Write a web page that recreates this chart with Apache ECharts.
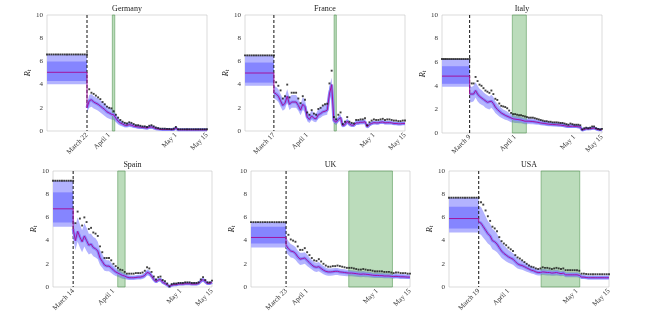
<!DOCTYPE html>
<html>
<head>
<meta charset="utf-8">
<script src="https://cdn.jsdelivr.net/npm/echarts@6/dist/echarts.min.js"></script>
<style>
  html, body { margin: 0; padding: 0; background: #fff; }
  #main { width: 645px; height: 320px; }
</style>
</head>
<body>
<div id="main"></div>
<script>
// days are counted from March 1 (day 0): April 1 = 31, May 1 = 61, May 15 = 75
const countries = ['Germany', 'France', 'Italy', 'Spain', 'UK', 'USA'];
const startDay = [3, 3, -6, 4, 7, 5];
const endDay = 75;
const lockDay = [21, 16, 8, 13, 22, 18];
const lockLabel = ['March 22', 'March 17', 'March 9', 'March 14', 'March 23', 'March 19'];
const tickDays = [31, 61, 75];
const tickLabels = ['April 1', 'May 1', 'May 15'];
const greenFrom = [32.4, 43.1, 29.6, 32.9, 48.8, 45.3];
const greenTo = [33.5, 44.1, 36.7, 36.2, 67.5, 62.2];

// constant estimate before lockdown
const preTop = [6.6, 6.52, 6.27, 9.16, 5.59, 7.7];
const preInHi = [6.0, 5.9, 5.66, 8.16, 5.19, 6.92];
const preMed = [5.06, 5.0, 4.82, 6.74, 4.27, 5.9];
const preInLo = [4.31, 4.17, 4.17, 5.56, 3.75, 5.04];
const preLo = [4.02, 3.9, 3.92, 5.19, 3.4, 4.7];

// after lockdown: med/lo/hi start on lockdown day, dots start the day after
const deMed = [2.0,2.6,2.7,2.5,2.4,2.3,2.15,2.0,1.85,1.65, 1.55,1.45,1.4,1.1,0.85,0.7,0.6,0.5,0.48,0.55, 0.5,0.42,0.38,0.35,0.32,0.3,0.28,0.25,0.32,0.35, 0.28,0.2,0.17,0.14,0.12,0.12,0.12,0.12,0.12,0.12, 0.25,0.1,0.1,0.1,0.1,0.1,0.1,0.1,0.1,0.1, 0.1,0.1,0.1,0.1,0.1];
const deLo = [1.6,2.0,2.1,1.95,1.85,1.75,1.6,1.45,1.3,1.15, 1.05,1.0,0.95,0.75,0.55,0.45,0.38,0.3,0.3,0.35, 0.32,0.26,0.23,0.2,0.18,0.17,0.15,0.13,0.18,0.2, 0.15,0.1,0.08,0.06,0.05,0.05,0.05,0.05,0.05,0.05, 0.13,0.04,0.04,0.04,0.04,0.04,0.04,0.04,0.04,0.04, 0.04,0.04,0.04,0.04,0.04];
const deHi = [2.4,3.1,3.2,3.0,2.9,2.8,2.65,2.5,2.35,2.15, 2.0,1.9,1.8,1.45,1.15,0.95,0.82,0.7,0.68,0.75, 0.7,0.6,0.55,0.5,0.47,0.44,0.42,0.38,0.46,0.5, 0.42,0.32,0.28,0.24,0.22,0.22,0.22,0.21,0.2,0.21, 0.38,0.18,0.18,0.18,0.18,0.18,0.18,0.18,0.18,0.18, 0.18,0.18,0.18,0.18,0.18];
const deDots = [3.6,3.3,3.2,3.05,2.9,2.75,2.5,2.3,2.1,2.0, 1.95,1.7,1.4,1.15,0.95,0.8,0.7,0.65,0.75,0.7, 0.6,0.5,0.5,0.45,0.4,0.4,0.35,0.45,0.5,0.4, 0.3,0.25,0.2,0.2,0.2,0.18,0.18,0.15,0.2,0.35, 0.15,0.15,0.15,0.15,0.15,0.15,0.15,0.15,0.15,0.15, 0.15,0.15,0.15,0.15];

const frMed = [3.3,3.2,3.0,2.6,2.2,2.4,3.0,2.3,2.5,2.5, 2.5,2.2,1.8,2.3,2.1,1.2,1.0,1.3,1.1,1.05, 1.4,1.5,1.65,1.7,1.8,3.2,4.0,0.9,0.75,1.0, 1.15,0.45,0.55,0.85,0.6,0.5,0.5,0.7,0.7,0.75, 0.75,0.8,0.35,0.55,0.65,0.72,0.7,0.7,0.75,0.78, 0.7,0.72,0.72,0.7,0.65,0.65,0.62,0.62,0.65,0.65];
const frLo = [2.8,2.7,2.5,2.1,1.75,1.9,2.45,1.8,2.0,2.0, 2.0,1.75,1.35,1.8,1.65,0.85,0.7,0.95,0.8,0.75, 1.05,1.15,1.3,1.35,1.4,2.6,3.3,0.65,0.5,0.75, 0.9,0.3,0.38,0.62,0.42,0.35,0.35,0.52,0.52,0.57, 0.57,0.62,0.22,0.4,0.5,0.57,0.55,0.55,0.6,0.63, 0.55,0.57,0.57,0.55,0.5,0.5,0.48,0.48,0.5,0.5];
const frHi = [3.9,3.8,3.6,3.2,2.8,3.0,3.6,2.9,3.1,3.1, 3.1,2.8,2.35,2.9,2.7,1.65,1.45,1.8,1.55,1.5, 1.9,2.0,2.2,2.25,2.35,3.9,4.6,1.2,1.0,1.3, 1.45,0.65,0.75,1.1,0.8,0.7,0.7,0.92,0.92,0.97, 0.97,1.02,0.5,0.72,0.82,0.88,0.86,0.86,0.9,0.93, 0.86,0.88,0.88,0.86,0.8,0.8,0.77,0.77,0.8,0.8];
const frDots = [4.2,3.9,3.5,2.8,3.0,4.0,2.9,3.3,3.3,3.3, 2.8,2.4,3.0,2.7,1.6,1.4,1.8,1.5,1.4,1.9, 2.0,2.2,2.3,2.35,4.1,5.2,1.2,1.0,1.4,1.6, 0.6,0.8,1.2,0.8,0.7,0.65,0.95,0.95,1.0,1.0, 1.1,0.5,0.75,0.9,1.0,0.95,0.95,1.0,1.05,0.95, 1.0,1.0,0.95,0.9,0.9,0.85,0.85,0.9,0.9];

const itMed = [3.3,3.2,3.3,3.6,3.3,3.1,3.0,2.85,2.7,2.6, 2.55,2.7,2.5,2.2,2.0,1.85,1.7,1.6,1.5,1.45, 1.35,1.25,1.2,1.15,1.15,1.1,1.1,1.05,1.0,1.0, 1.0,0.98,0.97,0.95,0.92,0.9,0.85,0.82,0.8,0.78, 0.75,0.73,0.72,0.7,0.7,0.68,0.67,0.65,0.62,0.58, 0.55,0.6,0.58,0.55,0.55,0.52,0.5,0.25,0.32,0.35, 0.32,0.35,0.42,0.42,0.32,0.28,0.25,0.28];
const itLo = [2.7,2.6,2.7,3.0,2.7,2.5,2.4,2.3,2.15,2.05, 2.0,2.15,1.95,1.7,1.55,1.4,1.3,1.2,1.12,1.08, 1.0,0.92,0.88,0.85,0.85,0.82,0.82,0.78,0.75,0.75, 0.76,0.75,0.74,0.73,0.7,0.69,0.65,0.63,0.62,0.6, 0.58,0.57,0.56,0.55,0.55,0.53,0.52,0.5,0.48,0.45, 0.42,0.46,0.44,0.42,0.42,0.4,0.38,0.18,0.24,0.27, 0.24,0.27,0.33,0.33,0.24,0.2,0.18,0.2];
const itHi = [4.0,3.9,4.0,4.3,4.0,3.75,3.65,3.45,3.3,3.2, 3.1,3.25,3.05,2.7,2.5,2.3,2.15,2.0,1.9,1.82, 1.7,1.6,1.52,1.47,1.45,1.4,1.38,1.32,1.27,1.26, 1.25,1.23,1.22,1.19,1.15,1.13,1.08,1.04,1.02,0.99, 0.96,0.94,0.92,0.9,0.89,0.87,0.86,0.84,0.8,0.76, 0.72,0.78,0.75,0.72,0.72,0.69,0.66,0.35,0.43,0.46, 0.43,0.46,0.54,0.54,0.43,0.38,0.35,0.38];
const itDots = [4.2,4.2,4.75,4.4,4.1,4.0,3.8,3.6,3.5,3.4, 3.6,3.3,2.9,2.8,2.5,2.3,2.25,2.2,2.1,1.9, 1.7,1.6,1.6,1.55,1.5,1.5,1.45,1.4,1.35,1.3, 1.3,1.3,1.25,1.2,1.15,1.1,1.05,1.0,1.0,0.95, 0.95,0.9,0.9,0.9,0.88,0.85,0.85,0.8,0.75,0.7, 0.8,0.75,0.7,0.7,0.7,0.65,0.3,0.4,0.45,0.4, 0.45,0.55,0.55,0.4,0.35,0.3,0.35];

const esMed = [5.0,4.0,4.8,4.3,3.9,4.4,4.0,3.6,3.7,3.4, 3.3,3.1,2.5,2.2,1.9,1.8,1.8,1.65,1.45,1.3, 1.2,1.1,1.0,0.95,0.85,0.8,0.8,0.8,0.82,0.85, 0.85,0.9,1.0,1.25,1.2,0.95,0.65,0.45,0.6,0.65, 0.4,0.3,0.18,0.05,0.15,0.2,0.2,0.25,0.25,0.25, 0.28,0.28,0.28,0.25,0.25,0.25,0.3,0.5,0.65,0.45, 0.3,0.3,0.4];
const esLo = [4.2,3.2,3.9,3.4,3.0,3.5,3.1,2.8,2.9,2.65, 2.55,2.4,1.9,1.65,1.4,1.35,1.35,1.2,1.05,0.95, 0.88,0.8,0.72,0.7,0.62,0.6,0.6,0.6,0.62,0.65, 0.65,0.7,0.78,1.0,0.95,0.75,0.5,0.33,0.46,0.5, 0.28,0.2,0.1,0.0,0.07,0.12,0.12,0.16,0.16,0.16, 0.18,0.18,0.18,0.16,0.16,0.16,0.2,0.38,0.52,0.34, 0.2,0.2,0.3];
const esHi = [6.1,5.3,6.0,5.4,4.9,5.5,5.1,4.6,4.6,4.3, 4.2,3.9,3.2,2.85,2.45,2.3,2.3,2.1,1.85,1.65, 1.52,1.4,1.28,1.2,1.08,1.02,1.0,1.0,1.02,1.05, 1.05,1.1,1.22,1.5,1.45,1.15,0.82,0.6,0.76,0.8, 0.52,0.42,0.3,0.15,0.25,0.3,0.3,0.35,0.35,0.35, 0.38,0.38,0.38,0.35,0.35,0.35,0.4,0.62,0.8,0.58, 0.4,0.4,0.52];
const esDots = [5.5,6.5,5.9,5.3,6.0,5.6,5.0,5.1,4.7,4.6, 4.4,3.5,3.0,2.5,2.5,2.5,2.3,2.0,1.8,1.65, 1.5,1.45,1.3,1.15,1.15,1.15,1.15,1.2,1.2,1.2, 1.25,1.4,1.7,1.6,1.3,0.9,0.65,0.85,0.9,0.6, 0.5,0.3,0.05,0.25,0.3,0.3,0.35,0.35,0.35,0.4, 0.4,0.4,0.35,0.35,0.35,0.4,0.65,0.85,0.6,0.4, 0.4,0.55];

const ukMed = [3.6,3.3,3.1,3.05,2.9,2.6,2.4,2.45,2.5,2.3, 2.1,1.9,1.75,1.7,1.75,1.6,1.45,1.35,1.3,1.3, 1.32,1.35,1.35,1.3,1.28,1.25,1.22,1.2,1.2,1.18, 1.15,1.12,1.1,1.12,1.1,1.08,1.05,1.02,1.0,1.0, 0.98,0.98,0.95,0.95,0.95,0.92,0.9,0.92,0.9,0.88, 0.88,0.87,0.85,0.85];
const ukLo = [3.0,2.75,2.55,2.5,2.35,2.1,1.9,1.95,2.0,1.8, 1.65,1.5,1.35,1.3,1.35,1.22,1.1,1.02,0.98,0.98, 1.0,1.03,1.03,0.99,0.97,0.95,0.93,0.92,0.92,0.9, 0.88,0.86,0.84,0.86,0.85,0.83,0.81,0.79,0.78,0.78, 0.77,0.77,0.75,0.75,0.75,0.73,0.71,0.73,0.71,0.7, 0.7,0.69,0.68,0.68];
const ukHi = [4.3,3.95,3.7,3.6,3.45,3.15,2.95,2.95,3.0,2.8, 2.55,2.35,2.15,2.1,2.15,1.97,1.8,1.68,1.6,1.6, 1.62,1.64,1.63,1.58,1.55,1.52,1.48,1.46,1.45,1.43, 1.4,1.37,1.35,1.37,1.34,1.32,1.29,1.26,1.24,1.24, 1.22,1.22,1.19,1.19,1.19,1.16,1.14,1.16,1.14,1.12, 1.12,1.1,1.08,1.08];
const ukDots = [4.5,4.1,4.0,3.9,3.5,3.2,3.2,3.35,3.0,2.75, 2.5,2.3,2.25,2.4,2.2,2.0,1.85,1.75,1.75,1.8, 1.8,1.85,1.8,1.75,1.7,1.65,1.65,1.65,1.6,1.55, 1.5,1.5,1.55,1.5,1.45,1.45,1.4,1.35,1.35,1.35, 1.35,1.3,1.3,1.3,1.25,1.2,1.25,1.25,1.2,1.2, 1.2,1.15,1.15];

const usMed = [5.6,5.5,5.2,4.9,4.6,4.4,4.0,3.9,3.7,3.4, 3.1,2.9,2.75,2.6,2.5,2.4,2.2,2.0,1.9,1.85, 1.75,1.65,1.55,1.45,1.4,1.3,1.25,1.25,1.3,1.28, 1.25,1.25,1.2,1.22,1.25,1.2,1.15,1.2,1.05,1.05, 1.05,1.05,1.05,1.05,1.0,0.85,0.85,0.82,0.8,0.8, 0.8,0.8,0.8,0.8,0.8,0.8,0.8,0.8];
const usLo = [4.6,4.5,4.25,4.0,3.75,3.6,3.25,3.15,3.0,2.75, 2.5,2.35,2.2,2.1,2.0,1.92,1.75,1.6,1.52,1.48, 1.4,1.32,1.24,1.16,1.12,1.04,1.0,1.0,1.04,1.02, 1.0,1.0,0.96,0.98,1.0,0.96,0.92,0.96,0.84,0.84, 0.84,0.84,0.84,0.84,0.8,0.68,0.68,0.66,0.64,0.64, 0.64,0.64,0.64,0.64,0.64,0.64,0.64,0.64];
const usHi = [7.0,6.9,6.5,6.1,5.7,5.45,5.0,4.85,4.6,4.2, 3.85,3.6,3.4,3.2,3.05,2.92,2.7,2.45,2.33,2.26, 2.14,2.02,1.9,1.78,1.7,1.58,1.52,1.52,1.57,1.55, 1.5,1.5,1.45,1.47,1.5,1.44,1.38,1.44,1.27,1.27, 1.27,1.27,1.27,1.27,1.22,1.05,1.05,1.02,1.0,1.0, 1.0,1.0,1.0,1.0,1.0,1.0,1.0,1.0];
const usDots = [7.3,7.1,6.6,6.1,5.7,5.2,5.05,4.8,4.3,3.95, 3.75,3.6,3.4,3.25,3.1,2.75,2.55,2.45,2.3,2.15, 2.0,1.85,1.75,1.7,1.6,1.55,1.6,1.7,1.65,1.65, 1.6,1.55,1.6,1.65,1.6,1.55,1.6,1.45,1.45,1.45, 1.45,1.45,1.45,1.4,1.15,1.15,1.12,1.1,1.1,1.1, 1.1,1.1,1.1,1.1,1.1,1.1,1.1];

const medArr = [deMed, frMed, itMed, esMed, ukMed, usMed];
const loArr = [deLo, frLo, itLo, esLo, ukLo, usLo];
const hiArr = [deHi, frHi, itHi, esHi, ukHi, usHi];
const dotsArr = [deDots, frDots, itDots, esDots, ukDots, usDots];

// panel boxes in px: left, top, width, height
const boxes = [
  [47, 15, 160, 116], [245, 15, 160, 116], [442, 15, 160, 118],
  [53, 171, 159, 116], [251, 171, 159, 116], [449, 171, 160, 116]
];

const FONT = '"Liberation Serif", "DejaVu Serif", serif';
const lightBlue = '#b3b3ff';
const darkBlue = '#8585ff';
const lineColor = '#a3139e';

var chart = echarts.init(document.getElementById('main'), null, { renderer: 'canvas' });

function bandRenderer(i) {
  return function (params, api) {
    const s = startDay[i], L = lockDay[i];
    const lo = loArr[i], hi = hiArr[i];
    const pt = (x, y) => api.coord([x, y]);
    const children = [];
    // pre-lockdown outer + inner bands
    children.push({ type: 'polygon', shape: { points: [pt(s, preLo[i]), pt(L, preLo[i]), pt(L, preTop[i]), pt(s, preTop[i])] }, style: { fill: lightBlue } });
    children.push({ type: 'polygon', shape: { points: [pt(s, preInLo[i]), pt(L, preInLo[i]), pt(L, preInHi[i]), pt(s, preInHi[i])] }, style: { fill: darkBlue } });
    // post-lockdown band
    const pts = [];
    hi.forEach((v, k) => pts.push(pt(L + k, v)));
    for (let k = lo.length - 1; k >= 0; k--) pts.push(pt(L + k, lo[k]));
    children.push({ type: 'polygon', shape: { points: pts }, style: { fill: lightBlue } });
    // green period
    const g0 = pt(greenFrom[i], 10), g1 = pt(greenTo[i], 0);
    children.push({ type: 'rect', shape: { x: g0[0], y: g0[1], width: g1[0] - g0[0], height: g1[1] - g0[1] },
      style: { fill: 'rgba(50,150,50,0.33)', stroke: '#5a9a5a', lineWidth: 0.6 } });
    // lockdown day
    const d0 = pt(L, 10), d1 = pt(L, 0);
    children.push({ type: 'line', shape: { x1: d0[0], y1: d0[1], x2: d1[0], y2: d1[1] },
      style: { stroke: '#111', lineWidth: 1, lineDash: [3, 2] }, z2: 10 });
    return { type: 'group', children: children };
  };
}

const grids = [], xAxes = [], yAxes = [], series = [], titles = [];
countries.forEach((name, i) => {
  const b = boxes[i];
  const s = startDay[i], L = lockDay[i];
  grids.push({ left: b[0], top: b[1], width: b[2], height: b[3], show: true, borderColor: '#c4c4c4', borderWidth: 0.6, backgroundColor: 'transparent' });
  const labelMap = {};
  labelMap[L] = lockLabel[i];
  tickDays.forEach((d, k) => { labelMap[d] = tickLabels[k]; });
  xAxes.push({
    gridIndex: i, type: 'value', min: s, max: endDay, interval: 1,
    axisLine: { show: false }, axisTick: { show: false }, splitLine: { show: false },
    axisLabel: { rotate: 45, margin: 3, fontSize: 7, fontFamily: FONT, color: '#333',
      formatter: v => labelMap[v] || '' }
  });
  yAxes.push({
    gridIndex: i, type: 'value', min: 0, max: 10, interval: 2,
    axisLine: { show: false }, axisTick: { show: false }, splitLine: { show: false },
    axisLabel: { margin: 4, fontSize: 7, fontFamily: FONT, color: '#333' },
    name: '{r|R}{t|t}', nameLocation: 'middle', nameGap: 11, nameRotate: 90,
    nameTextStyle: { rich: {
      r: { fontSize: 8, fontStyle: 'italic', fontFamily: FONT, color: '#222' },
      t: { fontSize: 5.5, fontStyle: 'italic', fontFamily: FONT, color: '#222', verticalAlign: 'bottom', padding: [3, 0, 0, 0] }
    } }
  });
  titles.push({ text: name, left: b[0] + b[2] / 2, top: b[1] - 10, textAlign: 'center', padding: 0,
    textStyle: { fontSize: 8, fontWeight: 'normal', fontFamily: FONT, color: '#222' } });

  series.push({ type: 'custom', xAxisIndex: i, yAxisIndex: i, z: 1, silent: true,
    data: [[s, 0]], renderItem: bandRenderer(i) });

  const med = medArr[i];
  const postMed = med.map((v, k) => [L + k, v]);
  series.push({ type: 'line', xAxisIndex: i, yAxisIndex: i, z: 2, silent: true, symbol: 'none',
    data: postMed, lineStyle: { color: darkBlue, width: 3 } });
  series.push({ type: 'line', xAxisIndex: i, yAxisIndex: i, z: 3, silent: true, symbol: 'none',
    data: [[s, preMed[i]], [L, preMed[i]]].concat(postMed), lineStyle: { color: lineColor, width: 1 } });

  const dots = [];
  for (let d = s; d <= L; d++) dots.push([d, preTop[i]]);
  dotsArr[i].forEach((v, k) => dots.push([L + 1 + k, v]));
  series.push({ type: 'scatter', xAxisIndex: i, yAxisIndex: i, z: 4, silent: true,
    symbol: 'rect', symbolSize: 1.9, data: dots, itemStyle: { color: '#111' } });
});

chart.setOption({
  animation: false,
  backgroundColor: '#fff',
  title: titles,
  grid: grids,
  xAxis: xAxes,
  yAxis: yAxes,
  series: series
});
</script>
</body>
</html>
